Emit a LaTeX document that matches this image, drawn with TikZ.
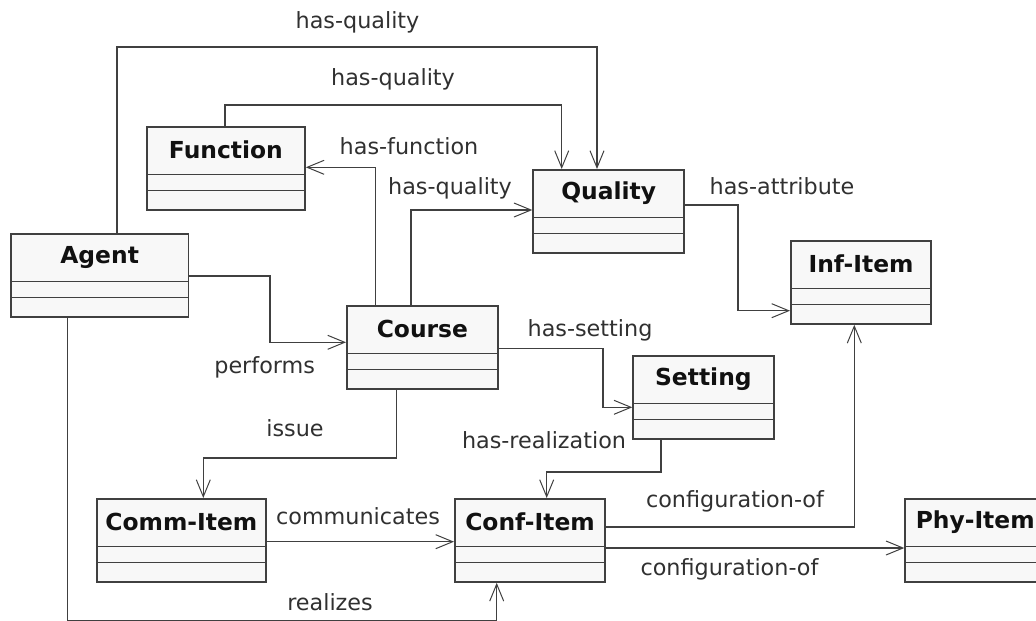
\documentclass[tikz,border=0pt]{standalone}
\usepackage{fontspec}
\setmainfont{DejaVu Sans}
\usetikzlibrary{arrows.meta}

\definecolor{linegray}{HTML}{404040}
\definecolor{boxgray}{HTML}{F8F8F8}
\definecolor{lblgray}{HTML}{303030}
\definecolor{titleblack}{HTML}{111111}

\begin{document}
\begin{tikzpicture}[x=1pt, y=-1pt,
  classbox/.style={draw=linegray, fill=boxgray, line width=1.8pt, inner sep=0pt,
    minimum height=83pt, anchor=north west,
    label={[anchor=center, yshift=-24pt, text=titleblack,
      font=\fontsize{23.4}{27}\selectfont\bfseries]north:#1}},
  sepline/.style={draw=linegray, line width=1.8pt},
  assoc/.style={draw=linegray, line width=1.5pt,
    -{Straight Barb[length=17pt, width=14pt, line width=1pt]}},
  lbl/.style={font=\fontsize{22.3}{26}\selectfont, text=lblgray, inner sep=0pt}]
  \useasboundingbox (0,0) rectangle (1036,621);

  % classes
  \node[classbox=Agent, minimum width=177.5pt] (agent) at (10,233) {};
  \node[classbox=Function, minimum width=158pt] (function) at (146,126) {};
  \node[classbox=Quality, minimum width=151pt] (quality) at (532.3,169) {};
  \node[classbox=Inf-Item, minimum width=140.3pt] (infitem) at (790,240) {};
  \node[classbox=Course, minimum width=151pt] (course) at (346,305) {};
  \node[classbox=Setting, minimum width=140.4pt] (setting) at (632.3,355) {};
  \node[classbox=Comm-Item, minimum width=169pt] (commitem) at (96,498) {};
  \node[classbox=Conf-Item, minimum width=150.3pt] (confitem) at (454,498) {};
  \node[classbox=Phy-Item, minimum width=140pt] (phyitem) at (904.3,498) {};
  \foreach \c in {agent,function,quality,infitem,course,setting,commitem,confitem,phyitem}
    \draw[sepline] ([yshift=-48.5pt]\c.north west) -- ([yshift=-48.5pt]\c.north east)
      ([yshift=-64.5pt]\c.north west) -- ([yshift=-64.5pt]\c.north east);

  % associations
  \draw[assoc] ([xshift=107pt]agent.north west) -- ++(0,-186) -| ([xshift=64.7pt]quality.north west);
  \draw[assoc] ([xshift=79pt]function.north west) -- ++(0,-21) -| ([xshift=29.4pt]quality.north west);
  \draw[assoc] ([xshift=29.7pt]course.north west) |- ([yshift=-41.3pt]function.north east);
  \draw[assoc] ([xshift=65pt]course.north west) |- ([yshift=-41pt]quality.north west);
  \draw[assoc] ([yshift=-43pt]agent.north east) -- ++(80.8,0) |- ([yshift=-37.3pt]course.north west);
  \draw[assoc] ([yshift=-36pt]quality.north east) -- ++(52.7,0) |- ([yshift=-70.7pt]infitem.north west);
  \draw[assoc] ([yshift=-43.3pt]course.north east) -- ++(104,0) |- ([yshift=-52.3pt]setting.north west);
  \draw[assoc] ([xshift=50.7pt]course.south west) -- ++(0,68.4) -| ([xshift=107.3pt]commitem.north west);
  \draw[assoc] ([xshift=28.7pt]setting.south west) -- ++(0,32) -| ([xshift=92.7pt]confitem.north west);
  \draw[assoc] ([yshift=-43.7pt]commitem.north east) -- ([yshift=-43.7pt]confitem.north west);
  \draw[assoc] ([xshift=57.7pt]agent.south west) -- ++(0,303.3) -| ([xshift=42.7pt]confitem.south west);
  \draw[assoc] ([yshift=-29pt]confitem.north east) -| ([xshift=64.3pt]infitem.south west);
  \draw[assoc] ([yshift=-50pt]confitem.north east) -- ([yshift=-50pt]phyitem.north west);

  % labels
  \node[lbl] (q1) at (357.5,22.5) {has-quality};
  \node[lbl] (q2) at (393,79) {has-quality};
  \node[lbl] (hf) at (409,146) {has-function};
  \node[lbl] (q3) at (450,188) {has-quality};
  \node[lbl] (ha) at (782,186) {has-attribute};
  \node[lbl] (pf) at (264.7,367.5) {performs};
  \node[lbl] (hs) at (590,330) {has-setting};
  \node[lbl] (is) at (295,428.5) {issue};
  \node[lbl] (hr) at (544,440) {has-realization};
  \node[lbl] (cm) at (358,516.5) {communicates};
  \node[lbl] (rz) at (330,602) {realizes};
  \node[lbl] (c1) at (735,501) {configuration-of};
  \node[lbl] (c2) at (729.5,569) {configuration-of};
\end{tikzpicture}
\end{document}
